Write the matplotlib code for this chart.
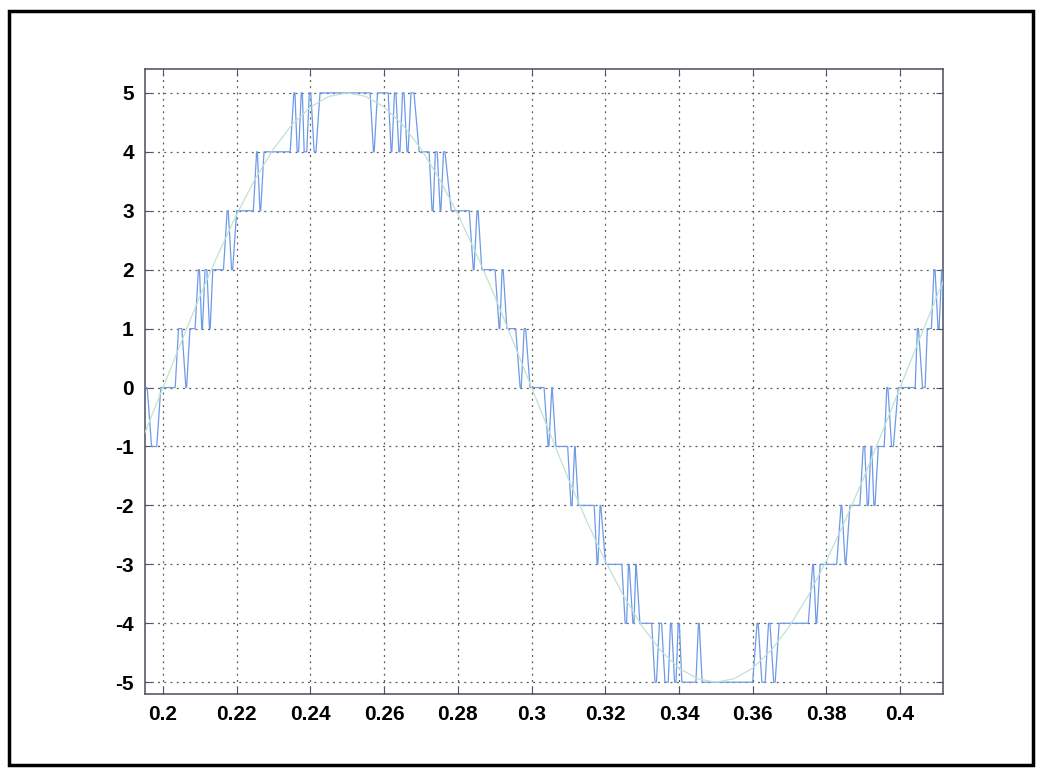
import matplotlib
matplotlib.use("Agg")
import matplotlib.pyplot as plt
from matplotlib.patches import Rectangle

# PWM multilevel output, vertices (time, level)
pwm_t = [0.1951, 0.1957, 0.1969, 0.1983, 0.1994,
         0.2033, 0.2042, 0.2051, 0.2062, 0.2064, 0.2073,
         0.2087, 0.2096, 0.2099, 0.2105, 0.2107, 0.2114, 0.2119, 0.2126, 0.2128, 0.2135,
         0.2164, 0.2174, 0.2177, 0.2186, 0.2189, 0.2200,
         0.2245, 0.2254, 0.2256, 0.2263, 0.2265, 0.2274,
         0.2345, 0.2355, 0.2358, 0.2364, 0.2368, 0.2375, 0.2378, 0.2383, 0.2390, 0.2397,
         0.2401, 0.2410, 0.2415, 0.2426,
         0.2562, 0.2571, 0.2573, 0.2582,
         0.2611, 0.2619, 0.2621, 0.2628, 0.2632, 0.2640, 0.2643, 0.2650, 0.2654, 0.2662,
         0.2665, 0.2673, 0.2681, 0.2695,
         0.2722, 0.2730, 0.2733, 0.2739, 0.2744, 0.2752, 0.2754, 0.2761, 0.2765, 0.2782,
         0.2831, 0.2842, 0.2844, 0.2852, 0.2855, 0.2865,
         0.2901, 0.2912, 0.2914, 0.2920, 0.2923, 0.2933,
         0.2957, 0.2969, 0.2972, 0.2980, 0.2984, 0.2996,
         0.3034, 0.3045, 0.3047, 0.3055, 0.3056, 0.3066,
         0.3098, 0.3107, 0.3110, 0.3117, 0.3118, 0.3127,
         0.3170, 0.3178, 0.3180, 0.3186, 0.3188, 0.3201,
         0.3245, 0.3254, 0.3258, 0.3263, 0.3265, 0.3275, 0.3278, 0.3283, 0.3284, 0.3294,
         0.3326, 0.3335, 0.3339, 0.3347, 0.3353, 0.3362, 0.3371, 0.3377, 0.3380, 0.3388,
         0.3392, 0.3398, 0.3401, 0.3408,
         0.3446, 0.3453, 0.3455, 0.3463,
         0.3600, 0.3612, 0.3615, 0.3625, 0.3634, 0.3643, 0.3647, 0.3657, 0.3661, 0.3672,
         0.3751, 0.3763, 0.3765, 0.3772, 0.3774, 0.3783,
         0.3828, 0.3840, 0.3842, 0.3851, 0.3853, 0.3864,
         0.3891, 0.3900, 0.3904, 0.3911, 0.3914, 0.3921, 0.3923, 0.3929, 0.3932, 0.3941,
         0.3957, 0.3964, 0.3967, 0.3977, 0.3982, 0.3995,
         0.4041, 0.4047, 0.4050, 0.4061, 0.4068, 0.4074,
         0.4085, 0.4092, 0.4095, 0.4103, 0.4106, 0.4113, 0.4119]
pwm_v = [0, 0, -1, -1, 0,
         0, 1, 1, 0, 0, 1,
         1, 2, 2, 1, 1, 2, 2, 1, 1, 2,
         2, 3, 3, 2, 2, 3,
         3, 4, 4, 3, 3, 4,
         4, 5, 5, 4, 4, 5, 5, 4, 4, 5,
         5, 4, 4, 5,
         5, 4, 4, 5,
         5, 4, 4, 5, 5, 4, 4, 5, 5, 4,
         4, 5, 5, 4,
         4, 3, 3, 4, 4, 3, 3, 4, 4, 3,
         3, 2, 2, 3, 3, 2,
         2, 1, 1, 2, 2, 1,
         1, 0, 0, 1, 1, 0,
         0, -1, -1, 0, 0, -1,
         -1, -2, -2, -1, -1, -2,
         -2, -3, -3, -2, -2, -3,
         -3, -4, -4, -3, -3, -4, -4, -3, -3, -4,
         -4, -5, -5, -4, -4, -5, -5, -4, -4, -5,
         -5, -4, -4, -5,
         -5, -4, -4, -5,
         -5, -4, -4, -5, -5, -4, -4, -5, -5, -4,
         -4, -3, -3, -4, -4, -3,
         -3, -2, -2, -3, -3, -2,
         -2, -1, -1, -2, -2, -1, -1, -2, -2, -1,
         -1, 0, 0, -1, -1, 0,
         0, 1, 1, 0, 0, 1,
         1, 2, 2, 1, 1, 2, 1.3]

# sinusoidal reference, read every 0.005 s
ref_t = [0.195, 0.200, 0.205, 0.210, 0.215, 0.220, 0.225, 0.230, 0.235, 0.240,
         0.245, 0.250, 0.255, 0.260, 0.265, 0.270, 0.275, 0.280, 0.285, 0.290,
         0.295, 0.300, 0.305, 0.310, 0.315, 0.320, 0.325, 0.330, 0.335, 0.340,
         0.345, 0.350, 0.355, 0.360, 0.365, 0.370, 0.375, 0.380, 0.385, 0.390,
         0.395, 0.400, 0.405, 0.410, 0.415]
ref_v = [-0.78, 0.0, 0.78, 1.55, 2.27, 2.94, 3.54, 4.05, 4.46, 4.76,
         4.94, 5.0, 4.94, 4.76, 4.46, 4.05, 3.54, 2.94, 2.27, 1.55,
         0.78, 0.0, -0.78, -1.55, -2.27, -2.94, -3.54, -4.05, -4.46, -4.76,
         -4.94, -5.0, -4.94, -4.76, -4.46, -4.05, -3.54, -2.94, -2.27, -1.55,
         -0.78, 0.0, 0.78, 1.55, 2.27]

x_ticks = [0.2, 0.22, 0.24, 0.26, 0.28, 0.3, 0.32, 0.34, 0.36, 0.38, 0.4]
x_labels = ["0.2", "0.22", "0.24", "0.26", "0.28", "0.3", "0.32", "0.34", "0.36", "0.38", "0.4"]
y_ticks = [5, 4, 3, 2, 1, 0, -1, -2, -3, -4, -5]

plt.rcParams["axes.unicode_minus"] = False
plt.rcParams["font.family"] = ["Liberation Sans", "DejaVu Sans"]

fig = plt.figure(figsize=(10.37, 7.75), dpi=100)
ax = fig.add_axes([0.1398, 0.1045, 0.7699, 0.8061])

ax.plot(pwm_t, pwm_v, color="#6f9ae8", linewidth=0.9, zorder=3)
ax.plot(ref_t, ref_v, color="#bfe3d1", linewidth=0.9, zorder=4)

ax.set_xlim(0.1951, 0.41175)
ax.set_ylim(-5.2, 5.4)
ax.set_xticks(x_ticks)
ax.set_xticklabels(x_labels)
ax.set_yticks(y_ticks)
ax.set_yticklabels([str(v) for v in y_ticks])

# matlab-ish grid and ticks
ax.grid(True, color="#606060", linestyle=(0, (1.6, 3.4)), linewidth=0.9)
ax.tick_params(direction="in", length=5, width=0.8, top=True, right=True,
               color="#555555", labelsize=15, pad=8)
for lab in ax.get_xticklabels() + ax.get_yticklabels():
    lab.set_fontweight("bold")
for s in ax.spines.values():
    s.set_color("#4a4d5c")
    s.set_linewidth(1.1)

# black frame round the whole figure
fig.patches.append(Rectangle((0.0087, 0.013), 0.987, 0.9728, transform=fig.transFigure,
                             fill=False, edgecolor="black", linewidth=2.5))

plt.savefig("out.png", dpi=100)
